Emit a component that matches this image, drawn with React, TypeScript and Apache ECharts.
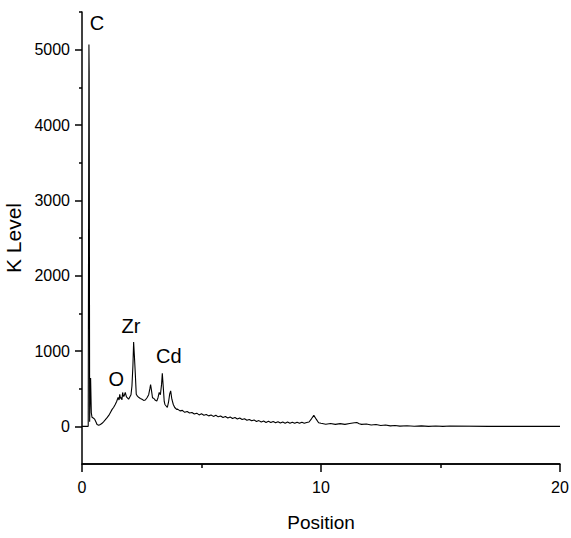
import React, { useEffect, useRef } from "react";
import * as echarts from "echarts";

const positions: number[] = [
  0, 0.1, 0.2, 0.26, 0.29, 0.3, 0.32, 0.36, 0.39, 0.42, 0.47, 0.53, 0.58, 0.63, 0.7, 0.77, 0.84, 0.9, 0.97,
  1.05, 1.12, 1.19, 1.26, 1.32, 1.39, 1.45, 1.51, 1.55, 1.58, 1.61, 1.64, 1.67, 1.7, 1.73, 1.76, 1.81, 1.86,
  1.92, 1.95, 2.0, 2.05, 2.09, 2.13, 2.16, 2.19, 2.23, 2.27, 2.32, 2.37, 2.44, 2.51, 2.58, 2.65, 2.72, 2.79,
  2.84, 2.87, 2.91, 2.95, 3.01, 3.07, 3.13, 3.18, 3.23, 3.28, 3.33, 3.36, 3.4, 3.44, 3.47, 3.52, 3.57, 3.62,
  3.67, 3.71, 3.76, 3.82, 3.88, 3.96,
  4.0, 4.1, 4.2, 4.3, 4.4, 4.5, 4.6, 4.7, 4.8, 4.9, 5.0, 5.1, 5.2, 5.3, 5.4, 5.5, 5.6, 5.7, 5.8, 5.9,
  6.0, 6.1, 6.2, 6.3, 6.4, 6.5, 6.6, 6.7, 6.8, 6.9, 7.0, 7.1, 7.2, 7.3, 7.4, 7.5, 7.6, 7.7, 7.8, 7.9,
  8.0, 8.1, 8.2, 8.3, 8.4, 8.5, 8.6, 8.7, 8.8, 8.9, 9.0, 9.1, 9.2, 9.3, 9.4, 9.5, 9.6, 9.7, 9.8, 9.9,
  10.0, 10.2, 10.4, 10.6, 10.8, 11.0, 11.2, 11.4, 11.5, 11.6, 11.7, 11.9, 12.1, 12.3, 12.5, 12.7, 12.9,
  13.1, 13.3, 13.6, 13.9, 14.2, 14.5, 14.8, 15.1, 15.4, 17.0, 18.5, 20.0,
];

const levels: number[] = [
  0, 0, 0, 0, 5070, 4710, 60, 640, 180, 120, 110, 95, 60, 25, 15, 25, 40, 60, 85,
  115, 145, 185, 225, 250, 290, 330, 385, 350, 425, 370, 385, 350, 450, 400, 400, 450, 390,
  370, 360, 390, 420, 535, 800, 1120, 950, 700, 425, 400, 385, 370, 360, 345, 350, 380, 420,
  500, 555, 470, 380, 370, 345, 335, 380, 450, 420, 560, 705, 520, 330, 290, 270, 250, 320,
  430, 470, 360, 290, 250, 225,
  228, 205, 212, 186, 196, 176, 184, 163, 175, 152, 166, 148, 158, 139, 151, 132, 146, 126, 138, 118,
  130, 110, 124, 104, 116, 97, 110, 90, 100, 80, 92, 74, 84, 64, 76, 58, 70, 52, 66, 50,
  64, 48, 62, 44, 58, 42, 56, 40, 54, 40, 54, 40, 55, 42, 52, 58, 100, 146, 95, 48,
  40, 28, 38, 26, 36, 26, 38, 48, 50, 35, 26, 30, 18, 24, 12, 18, 6,
  12, 3, 8, 1, 6, 0, 5, 0, 4, 0, 0, 0,
];

const yMajorTicks: number[] = [0, 1000, 2000, 3000, 4000, 5000];
const yMinorTicks: number[] = [500, 1500, 2500, 3500, 4500, 5500];
const xRange: number[] = [0, 20];
const yRange: number[] = [-500, 5500];

const peakNames: string[] = ["C", "O", "Zr", "Cd"];
const peakLabelX: number[] = [0.63, 1.43, 2.05, 3.63];
const peakLabelY: number[] = [5352, 631, 1328, 934];

const FONT = "'Liberation Sans', Arial, Helvetica, sans-serif";

function buildOption(): any {
  const data = positions.map((p, i) => [p, levels[i]]);
  const plain = (v: number) => String(v);
  return {
    animation: false,
    backgroundColor: "#fff",
    textStyle: { fontFamily: FONT },
    grid: { left: 82, right: 11, top: 12, bottom: 74, containLabel: false, outerBoundsMode: "none" },
    xAxis: {
      type: "value",
      min: xRange[0],
      max: xRange[1],
      interval: 10,
      position: "bottom",
      name: "Position",
      nameLocation: "middle",
      nameGap: 49,
      nameTextStyle: { color: "#000", fontSize: 19, fontFamily: FONT },
      axisLine: { show: true, onZero: false, lineStyle: { color: "#000", width: 1.5 } },
      splitLine: { show: false },
      minorSplitLine: { show: false },
      axisTick: { show: true, length: 8, inside: false, lineStyle: { color: "#000", width: 1.5 } },
      minorTick: { show: true, splitNumber: 2, length: 4, lineStyle: { color: "#000", width: 1.5 } },
      axisLabel: { show: true, formatter: plain, color: "#000", fontSize: 16, margin: 15, fontFamily: FONT },
    },
    yAxis: [
      {
        type: "value",
        min: yRange[0],
        max: yRange[1],
        position: "left",
        name: "K Level",
        nameLocation: "middle",
        nameGap: 46,
        nameTextStyle: { color: "#000", fontSize: 21, fontFamily: FONT },
        axisLine: { show: true, onZero: false, lineStyle: { color: "#000", width: 1.5 } },
        splitLine: { show: false },
        axisTick: { show: true, customValues: yMajorTicks, length: 7, lineStyle: { color: "#000", width: 1.5 } },
        axisLabel: {
          show: true,
          customValues: yMajorTicks,
          formatter: plain,
          color: "#000",
          fontSize: 16,
          margin: 12,
          fontFamily: FONT,
        },
      },
      {
        type: "value",
        min: yRange[0],
        max: yRange[1],
        position: "left",
        axisLine: { show: false, onZero: false },
        splitLine: { show: false },
        axisTick: { show: true, customValues: yMinorTicks, length: 3, lineStyle: { color: "#000", width: 1.5 } },
        axisLabel: { show: false },
      },
    ],
    series: [
      {
        type: "line",
        xAxisIndex: 0,
        yAxisIndex: 0,
        data,
        showSymbol: false,
        symbol: "none",
        lineStyle: { color: "#000", width: 1.1 },
        itemStyle: { color: "#000" },
        markPoint: {
          symbol: "rect",
          symbolSize: 1,
          itemStyle: { color: "transparent" },
          label: {
            show: true,
            position: "inside",
            color: "#000",
            fontSize: 20,
            fontFamily: FONT,
            formatter: (p: any) => p.name,
          },
          data: peakNames.map((n, i) => ({ name: n, coord: [peakLabelX[i], peakLabelY[i]] })),
        },
        markLine: {
          silent: true,
          symbol: "none",
          label: { show: false },
          lineStyle: { color: "#000", width: 1.5, type: "solid" },
          data: [[{ coord: [xRange[0], yRange[0]] }, { coord: [xRange[1], yRange[0]] }]],
        },
      },
    ],
  };
}

export default function App() {
  const ref = useRef<HTMLDivElement>(null);

  useEffect(() => {
    document.body.style.margin = "0";
    if (!ref.current) return;
    const chart = echarts.init(ref.current, undefined, { renderer: "svg" });
    chart.setOption(buildOption());
    return () => chart.dispose();
  }, []);

  return <div ref={ref} style={{ width: 571, height: 538 }} />;
}
